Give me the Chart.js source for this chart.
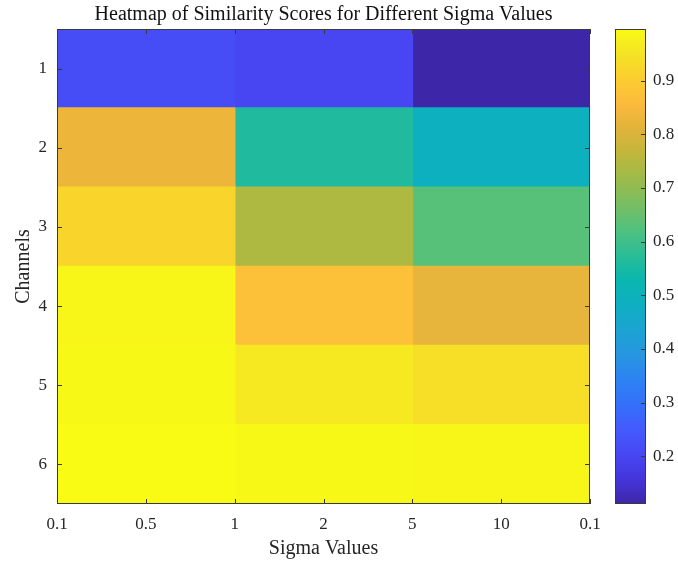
<!DOCTYPE html>
<html>
<head>
<meta charset="utf-8">
<script src="https://cdn.jsdelivr.net/npm/chart.js@4.4.1/dist/chart.umd.min.js"></script>
<style>
body{margin:0;background:#fff;}
#wrap{position:relative;width:678px;height:563px;}
#wrap canvas{position:absolute;left:0;top:0;}
</style>
</head>
<body>
<div id="wrap">
<canvas id="heat" width="678" height="563"></canvas>
<canvas id="bar" width="678" height="563"></canvas>
</div>
<script>
// data
let channels = [1, 2, 3, 4, 5, 6];
let sigmaCols = ["0.1-1", "1-5", "5-0.1"];
let xTickLabels = ["0.1", "0.5", "1", "2", "5", "10", "0.1"];
let scores = [
    [0.215, 0.20, 0.111],
    [0.83, 0.56, 0.49],
    [0.92, 0.74, 0.63],
    [0.985, 0.87, 0.82],
    [0.99, 0.96, 0.94],
    [0.996, 0.99, 0.985]
];
let cbTicks = [0.2, 0.3, 0.4, 0.5, 0.6, 0.7, 0.8, 0.9];

let allScores = scores.flat();
let cbMin = Math.min(...allScores);
let cbMax = Math.max(...allScores);

// parula colormap stops
let parulaStops = ['#3e26a8','#4435da','#4748f4','#435bfd','#3470f9','#2d83f2','#2796e0','#1ba4d2',
    '#0eafc1','#0ab7ad','#2cbd96','#51c17d','#79be62','#9cbb4a','#c0b73b','#e1b33a',
    '#fcba3d','#fbcd2f','#f5e324','#f9fb15'];

function hexRgb(h){
    return [parseInt(h.substr(1,2),16), parseInt(h.substr(3,2),16), parseInt(h.substr(5,2),16)];
}

function parula(v){
    let t = (v - cbMin) / (cbMax - cbMin);
    t = Math.max(0, Math.min(1, t));
    let p = t * (parulaStops.length - 1);
    let i = Math.min(Math.floor(p), parulaStops.length - 2);
    let f = p - i;
    let a = hexRgb(parulaStops[i]), b = hexRgb(parulaStops[i+1]);
    let c = a.map((x, k) => Math.round(x + (b[k] - x) * f));
    return 'rgb(' + c.join(',') + ')';
}

let serif = 'Liberation Serif';
let ink = '#262626';
let noGrid = { display: false, drawTicks: false };

// box round the plot area with inward tick marks
const frame = {
    id: 'frame',
    afterDraw(chart, args, opts){
        const {ctx, chartArea: a, scales} = chart;
        ctx.save();
        ctx.strokeStyle = '#3a3a3a';
        ctx.lineWidth = 1;
        ctx.strokeRect(a.left + 0.5, a.top + 0.5, a.width - 1, a.height - 1);
        ctx.beginPath();
        if(opts.xTicks){
            scales.x.ticks.forEach(function(t){
                let px = Math.round(scales.x.getPixelForValue(t.value)) + 0.5;
                ctx.moveTo(px, a.bottom); ctx.lineTo(px, a.bottom - 5);
                ctx.moveTo(px, a.top); ctx.lineTo(px, a.top + 5);
            });
        }
        scales.y.ticks.forEach(function(t){
            let py = Math.round(scales.y.getPixelForValue(t.value)) + 0.5;
            if(opts.leftTicks){ ctx.moveTo(a.left, py); ctx.lineTo(a.left + 5, py); }
            ctx.moveTo(a.right, py); ctx.lineTo(a.right - 5, py);
        });
        ctx.stroke();
        ctx.restore();
    }
};

// one dataset per sigma column, one floating bar per channel
let heatSets = sigmaCols.map(function(col, j){
    return {
        label: col,
        data: channels.map(function(ch){ return {x: j + 1, y: [ch - 0.5, ch + 0.5]}; }),
        backgroundColor: channels.map(function(ch, i){ return parula(scores[i][j]); }),
        borderWidth: 0,
        inflateAmount: 0.8,
        barPercentage: 2,   // ticks sit every half column, so the sample gap is half a cell
        categoryPercentage: 1,
        grouped: false
    };
});

new Chart(document.getElementById('heat'), {
    type: 'bar',
    data: { datasets: heatSets },
    plugins: [frame],
    options: {
        responsive: false,
        animation: false,
        layout: { padding: { left: 0, right: 88, top: 0, bottom: 0 } },
        plugins: {
            legend: { display: false },
            tooltip: { enabled: false },
            frame: { xTicks: true, leftTicks: true },
            title: {
                display: true,
                fullSize: false,
                text: 'Heatmap of Similarity Scores for Different Sigma Values',
                color: '#111',
                font: { family: serif, size: 20, weight: 'normal', lineHeight: 1.2 },
                padding: { top: 3, bottom: 2 }
            }
        },
        scales: {
            x: {
                type: 'linear',
                min: 0.5,
                max: 3.5,
                offset: false,
                grid: noGrid,
                border: { display: false },
                afterBuildTicks: function(s){
                    s.ticks = xTickLabels.map(function(l, i){ return {value: 0.5 + i * 0.5}; });
                },
                afterFit: function(s){ s.height = 59; },
                ticks: {
                    autoSkip: false,
                    maxRotation: 0,
                    padding: 10,
                    color: ink,
                    font: { family: serif, size: 17 },
                    callback: function(v, i){ return xTickLabels[i]; }
                },
                title: {
                    display: true,
                    text: 'Sigma Values',
                    color: ink,
                    font: { family: serif, size: 20 },
                    padding: { top: 0, bottom: 2 }
                }
            },
            y: {
                type: 'linear',
                min: 0.5,
                max: 6.5,
                reverse: true,
                grid: noGrid,
                border: { display: false },
                afterBuildTicks: function(s){
                    s.ticks = channels.map(function(c){ return {value: c}; });
                },
                afterFit: function(s){ s.width = 57; },
                ticks: {
                    padding: 10,
                    color: ink,
                    font: { family: serif, size: 17 }
                },
                title: {
                    display: true,
                    text: 'Channels',
                    color: ink,
                    font: { family: serif, size: 20 },
                    padding: { top: 12, bottom: 0 }
                }
            }
        }
    }
});

// colorbar
new Chart(document.getElementById('bar'), {
    type: 'bar',
    data: {
        labels: ['scale'],
        datasets: [{
            data: [[cbMin, cbMax]],
            backgroundColor: function(c){
                let a = c.chart.chartArea;
                if(!a) return parula((cbMin + cbMax) / 2);
                let g = c.chart.ctx.createLinearGradient(0, a.bottom, 0, a.top);
                parulaStops.forEach(function(s, i){ g.addColorStop(i / (parulaStops.length - 1), s); });
                return g;
            },
            borderWidth: 0,
            barPercentage: 1,
            categoryPercentage: 1
        }]
    },
    plugins: [frame],
    options: {
        responsive: false,
        animation: false,
        layout: { padding: { left: 615, right: 0, top: 29, bottom: 59 } },
        plugins: {
            legend: { display: false },
            tooltip: { enabled: false },
            frame: { xTicks: false, leftTicks: false }
        },
        scales: {
            x: { display: false },
            y: {
                position: 'right',
                min: cbMin,
                max: cbMax,
                grid: noGrid,
                border: { display: false },
                afterBuildTicks: function(s){
                    s.ticks = cbTicks.map(function(v){ return {value: v}; });
                },
                afterFit: function(s){ s.width = 32; },
                ticks: {
                    padding: 7,
                    color: ink,
                    font: { family: serif, size: 17 },
                    callback: function(v){ return v.toFixed(1); }
                }
            }
        }
    }
});
</script>
</body>
</html>
